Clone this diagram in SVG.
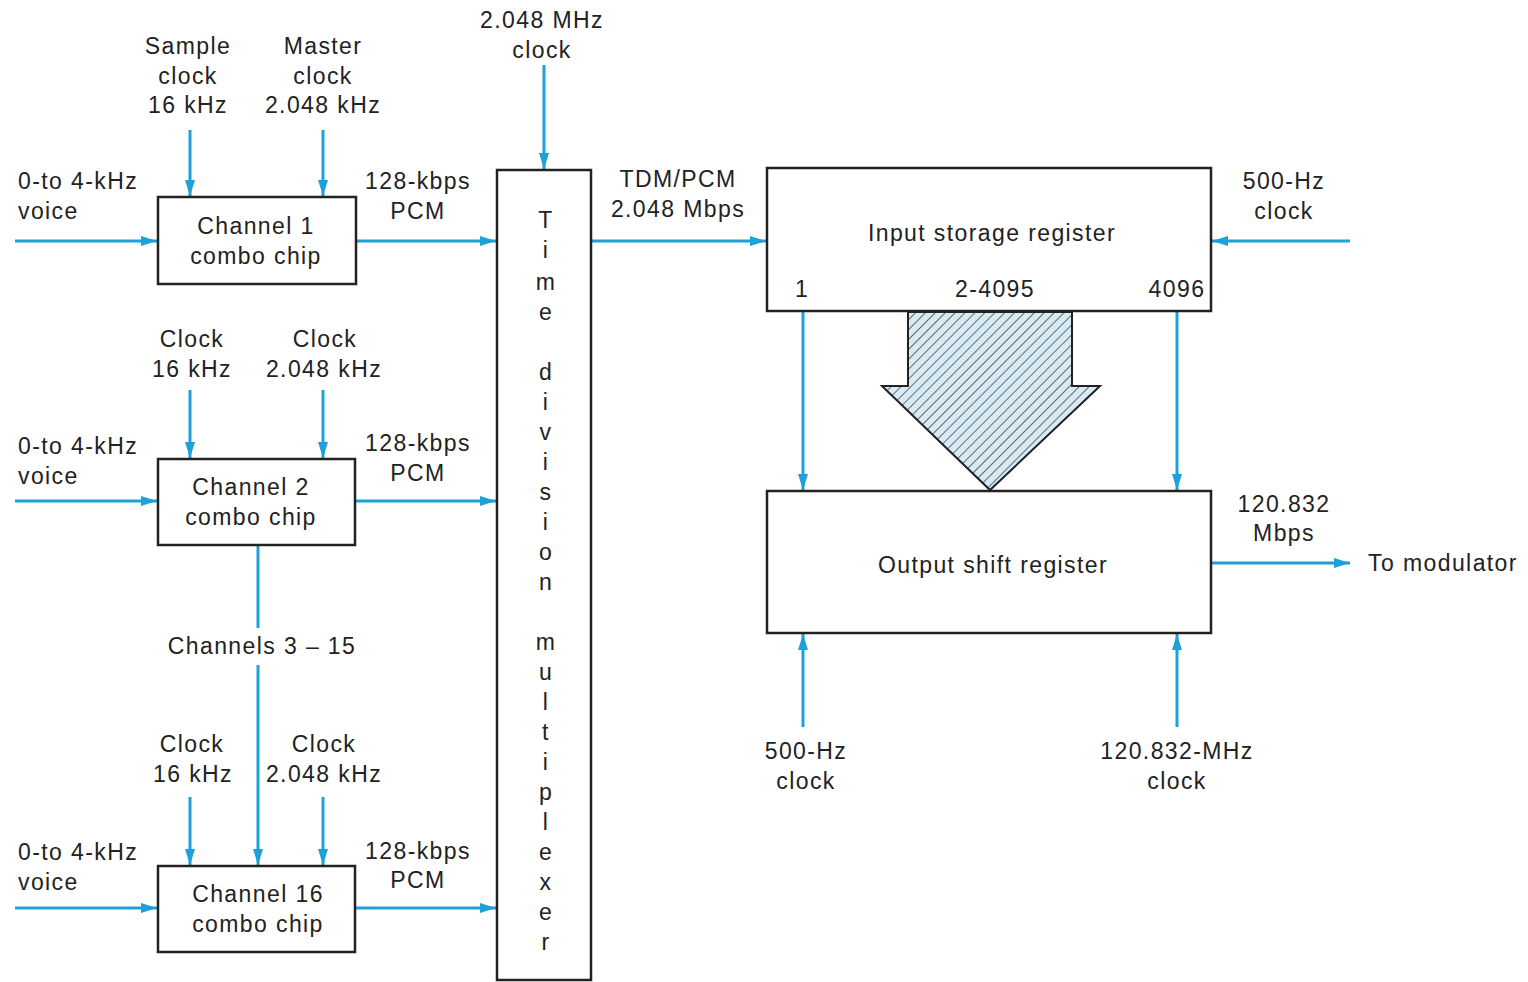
<svg xmlns="http://www.w3.org/2000/svg" width="1528" height="982" viewBox="0 0 1528 982">
<style>
text{font-family:"Liberation Sans",Arial,sans-serif;font-size:23px;letter-spacing:1.4px;fill:#222;text-anchor:middle}
.l{text-anchor:start}
.box{fill:#fff;stroke:#222;stroke-width:2.5}
.c{stroke:#1ea0d8;stroke-width:3;fill:none}
.ca{stroke:#1ea0d8;stroke-width:3;fill:none;marker-end:url(#ah)}
</style>
<defs>
<marker id="ah" viewBox="0 0 16 10" refX="16" refY="5" markerWidth="16" markerHeight="10" markerUnits="userSpaceOnUse" orient="auto">
<path d="M0,0 L16,5 L0,10 Z" fill="#1ea0d8"/>
</marker>
<pattern id="hatch" patternUnits="userSpaceOnUse" width="7" height="7" patternTransform="rotate(45)">
<rect width="7" height="7" fill="#d8ebf5"/>
<line x1="0" y1="0" x2="0" y2="7" stroke="#222" stroke-width="1.3"/>
</pattern>
</defs>
<rect width="1528" height="982" fill="#fff"/>
<g id="connectors">
<line class="ca" x1="15" y1="241" x2="157" y2="241"/>
<line class="ca" x1="357" y1="241" x2="496" y2="241"/>
<line class="ca" x1="190" y1="130" x2="190" y2="196"/>
<line class="ca" x1="323" y1="130" x2="323" y2="196"/>
<line class="ca" x1="15" y1="501" x2="157" y2="501"/>
<line class="ca" x1="356" y1="501" x2="496" y2="501"/>
<line class="ca" x1="190" y1="390" x2="190" y2="458"/>
<line class="ca" x1="323" y1="390" x2="323" y2="458"/>
<line class="c" x1="258" y1="546" x2="258" y2="628"/>
<line class="ca" x1="258" y1="665" x2="258" y2="865"/>
<line class="ca" x1="15" y1="908" x2="157" y2="908"/>
<line class="ca" x1="356" y1="908" x2="496" y2="908"/>
<line class="ca" x1="190" y1="797" x2="190" y2="865"/>
<line class="ca" x1="323" y1="797" x2="323" y2="865"/>
<line class="ca" x1="544" y1="65" x2="544" y2="169"/>
<line class="ca" x1="592" y1="241" x2="766" y2="241"/>
<line class="ca" x1="1350" y1="241" x2="1212" y2="241"/>
<line class="ca" x1="803" y1="312" x2="803" y2="490"/>
<line class="ca" x1="1177" y1="312" x2="1177" y2="490"/>
<line class="ca" x1="803" y1="727" x2="803" y2="634"/>
<line class="ca" x1="1177" y1="727" x2="1177" y2="634"/>
<line class="ca" x1="1212" y1="563" x2="1350" y2="563"/>
</g>
<g id="ch1">
<rect class="box" x="158" y="197" width="198" height="87"/>
<text x="256" y="234">Channel 1</text>
<text x="256" y="264">combo chip</text>
<text x="188" y="54">Sample</text>
<text x="188" y="84">clock</text>
<text x="188" y="113">16 kHz</text>
<text x="323" y="54">Master</text>
<text x="323" y="84">clock</text>
<text x="323" y="113">2.048 kHz</text>
<text class="l" x="18" y="189">0-to 4-kHz</text>
<text class="l" x="18" y="219">voice</text>
<text x="418" y="189">128-kbps</text>
<text x="418" y="219">PCM</text>
</g>
<g id="ch2">
<rect class="box" x="158" y="459" width="197" height="86"/>
<text x="251" y="495">Channel 2</text>
<text x="251" y="525">combo chip</text>
<text x="192" y="347">Clock</text>
<text x="192" y="377">16 kHz</text>
<text x="325" y="347">Clock</text>
<text x="324" y="377">2.048 kHz</text>
<text class="l" x="18" y="454">0-to 4-kHz</text>
<text class="l" x="18" y="484">voice</text>
<text x="418" y="451">128-kbps</text>
<text x="418" y="481">PCM</text>
</g>
<g id="ch3-15">
<text x="262" y="654">Channels 3 – 15</text>
</g>
<g id="ch16">
<rect class="box" x="158" y="866" width="197" height="86"/>
<text x="258" y="902">Channel 16</text>
<text x="258" y="932">combo chip</text>
<text x="192" y="752">Clock</text>
<text x="193" y="782">16 kHz</text>
<text x="324" y="752">Clock</text>
<text x="324" y="782">2.048 kHz</text>
<text class="l" x="18" y="860">0-to 4-kHz</text>
<text class="l" x="18" y="890">voice</text>
<text x="418" y="859">128-kbps</text>
<text x="418" y="888">PCM</text>
</g>
<g id="mux">
<rect class="box" x="497" y="170" width="94" height="810"/>
<text x="542" y="28">2.048 MHz</text>
<text x="542" y="58">clock</text>
<text x="546" y="228">T</text><text x="546" y="258">i</text><text x="546" y="290">m</text><text x="546" y="320">e</text>
<text x="546" y="380">d</text><text x="546" y="410">i</text><text x="546" y="440">v</text><text x="546" y="470">i</text><text x="546" y="500">s</text><text x="546" y="530">i</text><text x="546" y="560">o</text><text x="546" y="590">n</text>
<text x="546" y="650">m</text><text x="546" y="680">u</text><text x="546" y="710">l</text><text x="546" y="740">t</text><text x="546" y="770">i</text><text x="546" y="800">p</text><text x="546" y="830">l</text><text x="546" y="860">e</text><text x="546" y="890">x</text><text x="546" y="920">e</text><text x="546" y="950">r</text>
<text x="678" y="187">TDM/PCM</text>
<text x="678" y="217">2.048 Mbps</text>
</g>
<g id="input-register">
<rect class="box" x="767" y="168" width="444" height="143"/>
<text x="992" y="241">Input storage register</text>
<text x="802" y="297">1</text>
<text x="995" y="297">2-4095</text>
<text x="1177" y="297">4096</text>
<text x="1284" y="189">500-Hz</text>
<text x="1284" y="219">clock</text>
</g>
<g id="transfer-arrow">
<path d="M908,312 L1072,312 L1072,386 L1100,386 L990,490 L882,386 L908,386 Z" fill="url(#hatch)" stroke="#222" stroke-width="2"/>
</g>
<g id="output-register">
<rect class="box" x="767" y="491" width="444" height="142"/>
<text x="993" y="573">Output shift register</text>
<text x="1284" y="512">120.832</text>
<text x="1284" y="541">Mbps</text>
<text x="1443" y="571">To modulator</text>
<text x="806" y="759">500-Hz</text>
<text x="806" y="789">clock</text>
<text x="1177" y="759">120.832-MHz</text>
<text x="1177" y="789">clock</text>
</g>
</svg>
